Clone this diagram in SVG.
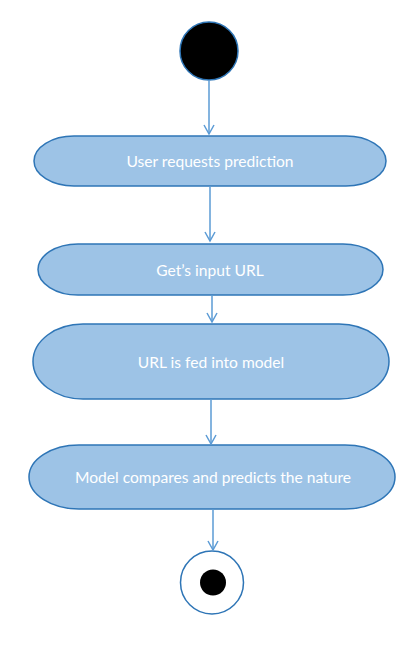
<svg xmlns="http://www.w3.org/2000/svg" width="409" height="662" viewBox="0 0 409 662">
<style>
.act{fill:#9DC3E6;stroke:#2E75B6;stroke-width:1.5}
.lbl{font-family:Lato,"Open Sans",sans-serif;font-size:15.6px;fill:#FFFFFF;text-anchor:middle;dominant-baseline:central}
.con{stroke:#5B9BD5;stroke-width:1.5;fill:none}
</style>
<defs>
<marker id="arr" markerWidth="12" markerHeight="12" refX="10" refY="6" orient="auto" markerUnits="userSpaceOnUse">
<path d="M1,1 L10,6 L1,11" fill="none" stroke="#5B9BD5" stroke-width="1.5"/>
</marker>
</defs>
<rect width="409" height="662" fill="#FFFFFF"/>
<g id="start"><circle cx="209" cy="51" r="29" fill="#000000" stroke="#2E75B6" stroke-width="1.5"/></g>
<g id="n1"><rect class="act" x="34" y="136" width="352" height="50" rx="40" ry="25"/><text class="lbl" x="210" y="161">User requests prediction</text></g>
<g id="n2"><rect class="act" x="38" y="244" width="345" height="51" rx="40" ry="25.5"/><text class="lbl" x="210" y="270">Get’s input URL</text></g>
<g id="n3"><rect class="act" x="33" y="324" width="356" height="75" rx="50" ry="37.5"/><text class="lbl" x="211" y="362">URL is fed into model</text></g>
<g id="n4"><rect class="act" x="29" y="445" width="366" height="64" rx="50" ry="32"/><text class="lbl" x="213" y="477">Model compares and predicts the nature</text></g>
<g id="end"><circle cx="212" cy="582.5" r="31.5" fill="#FFFFFF" stroke="#2E75B6" stroke-width="1.5"/><circle cx="213" cy="582.5" r="13" fill="#000000"/></g>
<g id="connectors">
<line class="con" x1="209" y1="80" x2="209" y2="134" marker-end="url(#arr)"/>
<line class="con" x1="210" y1="186" x2="210" y2="241" marker-end="url(#arr)"/>
<line class="con" x1="212" y1="295" x2="212" y2="322" marker-end="url(#arr)"/>
<line class="con" x1="211" y1="399" x2="211" y2="444" marker-end="url(#arr)"/>
<line class="con" x1="213" y1="509" x2="213" y2="550" marker-end="url(#arr)"/>
</g>
</svg>
